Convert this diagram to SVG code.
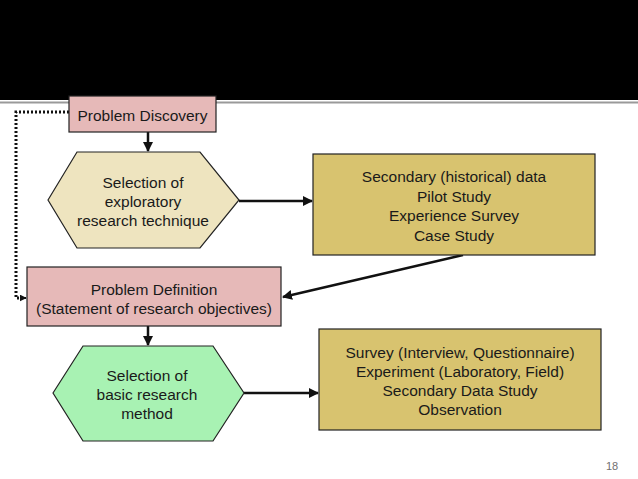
<svg xmlns="http://www.w3.org/2000/svg" width="638" height="479" viewBox="0 0 638 479">
<defs>
<marker id="ah" viewBox="0 0 10 10" refX="9" refY="5" markerWidth="10" markerHeight="10" orient="auto" markerUnits="userSpaceOnUse">
<path d="M0,0 L10,5 L0,10 z" fill="#111"/>
</marker>
<marker id="ahs" viewBox="0 0 10 10" refX="9" refY="5" markerWidth="7" markerHeight="7" orient="auto" markerUnits="userSpaceOnUse">
<path d="M0,0 L10,5 L0,10 z" fill="#111"/>
</marker>
</defs>
<style>
text{font-family:"Liberation Sans",Arial,sans-serif;font-size:15.5px;fill:#1a1a1a;text-anchor:middle}
text.pg{font-size:11px;fill:#707070}
.b{stroke:#222;stroke-width:1.2}
.c{stroke:#111;stroke-width:2.5;fill:none}
.pink{fill:#E6B9B8}
.beige{fill:#EEE4BF}
.gold{fill:#D8C36F}
.green{fill:#A8F2B3}
</style>
<rect x="0" y="0" width="638" height="100" fill="#000"/>
<line x1="0" y1="102.5" x2="638" y2="102.5" stroke="#9a9a9a" stroke-width="2"/>
<g id="connectors">
<line class="c" x1="148" y1="132" x2="148" y2="151" marker-end="url(#ah)"/>
<line class="c" x1="239" y1="201" x2="312" y2="201" marker-end="url(#ah)"/>
<line class="c" x1="463" y1="255" x2="283" y2="297" marker-end="url(#ah)"/>
<line class="c" x1="148" y1="326" x2="148" y2="345" marker-end="url(#ah)"/>
<line class="c" x1="244" y1="393" x2="318" y2="393" marker-end="url(#ah)"/>
<polyline points="69,112 16,112 16,298 20,298" fill="none" stroke="#111" stroke-width="3" stroke-dasharray="2 2"/>
<line x1="20" y1="298" x2="26" y2="298" stroke="#111" stroke-width="2" marker-end="url(#ahs)"/>
</g>
<g id="problem-discovery">
<rect class="b pink" x="69" y="96" width="147" height="36"/>
<text x="142.5" y="121">Problem Discovery</text>
</g>
<g id="exploratory">
<polygon class="b beige" points="48,200 77,152 200,152 239,200 200,248 77,248"/>
<text x="143" y="188">Selection of</text>
<text x="143" y="207">exploratory</text>
<text x="143" y="226">research technique</text>
</g>
<g id="exploratory-methods">
<rect class="b gold" x="313" y="154" width="282" height="101"/>
<text x="454" y="182">Secondary (historical) data</text>
<text x="454" y="202">Pilot Study</text>
<text x="454" y="221">Experience Survey</text>
<text x="454" y="241">Case Study</text>
</g>
<g id="problem-definition">
<rect class="b pink" x="27" y="267" width="254" height="59"/>
<text x="154" y="295">Problem Definition</text>
<text x="154" y="314">(Statement of research objectives)</text>
</g>
<g id="basic">
<polygon class="b green" points="53,393 83,346 213,346 244,393 213,441 83,441"/>
<text x="147" y="381">Selection of</text>
<text x="147" y="400">basic research</text>
<text x="147" y="419">method</text>
</g>
<g id="basic-methods">
<rect class="b gold" x="319" y="329" width="282" height="101"/>
<text x="460" y="358">Survey (Interview, Questionnaire)</text>
<text x="460" y="377">Experiment (Laboratory, Field)</text>
<text x="460" y="396">Secondary Data Study</text>
<text x="460" y="415">Observation</text>
</g>
<text class="pg" x="612" y="470">18</text>
</svg>
